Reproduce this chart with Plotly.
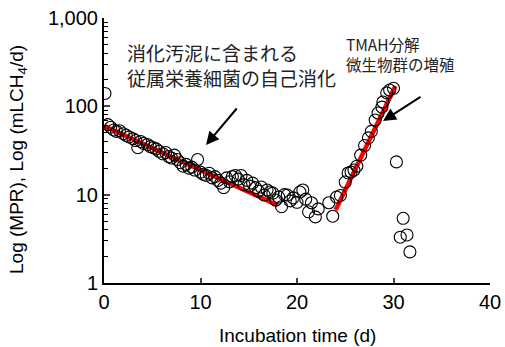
import plotly.graph_objects as go

# Measured methane production rate (scatter)
days = [0.1, 0.4, 0.7, 1.0, 1.3, 1.6, 2.0, 2.3, 2.6, 3.0, 3.3, 3.5, 3.8, 4.1, 4.5, 4.8,
        5.1, 5.4, 5.7, 6.1, 6.4, 6.7, 7.0, 7.3, 7.6, 7.9, 8.2, 8.5, 8.8, 9.1, 9.4, 9.7,
        10.0, 10.3, 10.6, 10.9, 11.2, 11.5, 11.8, 12.1, 12.4, 12.7, 13.0, 13.3, 13.6, 13.9,
        14.2, 14.5, 14.8, 15.1, 15.4, 15.7, 16.0, 16.3, 16.6, 16.9, 17.2, 17.5, 17.8, 18.1,
        18.4, 18.7, 19.0, 19.3, 19.6, 20.0, 20.3, 20.6, 20.9, 21.2, 21.5, 21.9, 22.2,
        23.3, 23.7, 24.1, 24.5, 25.0, 25.3, 25.6, 25.9, 26.2, 26.6, 27.0, 27.4, 27.7,
        28.1, 28.4, 28.8, 28.9, 29.3, 29.6, 30.0, 30.3, 30.7, 31.0, 31.4, 31.7]
mpr = [140, 62, 58, 54, 52, 53, 49, 47, 45, 43, 41, 34, 40, 38, 37, 35,
       34, 33, 31, 29, 30, 27, 26, 28, 25, 23, 21, 22, 20, 20.5, 19, 25,
       18, 17, 16.5, 17.5, 15.5, 16, 14.5, 13.5, 12, 15.5, 14, 16, 16.5, 15,
       16.5, 13, 14.5, 12.5, 13.5, 12, 11, 12.2, 9.9, 11.3, 10.7, 10.4, 8.7, 9.4,
       7.3, 10, 9.9, 8.5, 9.2, 8.2, 10.7, 11.3, 8.9, 6.4, 8.1, 5.6, 6.9,
       8.1, 5.7, 9.4, 9.8, 13.9, 17.6, 18, 19, 21, 28, 36, 44, 52,
       70, 84, 98, 112, 142, 153, 160, 23.5, 3.3, 5.4, 3.5, 2.25]

# Fitted lines
fit1_x = [0, 18]
fit1_y = [60, 7.6]
fit2_x = [24, 30.2]
fit2_y = [6.7, 170]

x_ticks = [0, 10, 20, 30, 40]
y_tickvals = [1, 10, 100, 1000]
y_ticktext = ["1", "10", "100", "1,000"]
y_minor = [v * m for m in (1, 10, 100) for v in range(2, 10)]

fig = go.Figure()
fig.add_trace(go.Scatter(x=fit1_x, y=fit1_y, mode="lines",
                         line=dict(color="#ff0000", width=4.5), showlegend=False))
fig.add_trace(go.Scatter(x=fit2_x, y=fit2_y, mode="lines",
                         line=dict(color="#ff0000", width=4.5), showlegend=False))
fig.add_trace(go.Scatter(x=days, y=mpr, mode="markers",
                         marker=dict(symbol="circle-open", size=12,
                                     line=dict(color="black", width=1.1), color="black"),
                         showlegend=False))

font_en = "Liberation Sans, Arial, sans-serif"
font_jp = "Noto Sans CJK JP"

fig.update_layout(
    width=505, height=347,
    margin=dict(l=104, r=15, t=18, b=64),
    paper_bgcolor="white", plot_bgcolor="white",
    font=dict(family=font_en, size=19, color="black"),
    xaxis=dict(range=[0, 40], tickvals=x_ticks, ticks="inside", ticklen=5,
               tickwidth=1.5, showline=True, linecolor="black", linewidth=2,
               showgrid=False, zeroline=False, automargin=False,
               tickfont=dict(size=20)),
    yaxis=dict(type="log", range=[0, 3], tickvals=y_tickvals, ticktext=y_ticktext,
               ticks="inside", ticklen=6, tickwidth=1.5, showline=True,
               linecolor="black", linewidth=2, showgrid=False, zeroline=False,
               automargin=False,
               minor=dict(tickvals=y_minor, ticks="inside", ticklen=4, tickwidth=1,
                          tickcolor="black", showgrid=False),
               tickfont=dict(size=20)),
)

def px(xp):
    return (xp - 104) / 386

def py(yp):
    return 1 - (yp - 18) / 265

# Axis titles
fig.add_annotation(xref="paper", yref="paper", x=px(297), y=py(335),
                   xanchor="center", yanchor="middle", showarrow=False,
                   text="Incubation time (d)", font=dict(size=19))
fig.add_annotation(xref="paper", yref="paper", x=px(18), y=py(160),
                   xanchor="center", yanchor="middle", showarrow=False, textangle=-90,
                   text="Log (MPR), Log (mLCH<sub>4</sub>/d)", font=dict(size=19))

fig.add_annotation(xref="x domain", yref="y domain", x=px(125), y=py(37),
                   xanchor="left", yanchor="top", align="left", showarrow=False,
                   text="消化汚泥に含まれる<br>従属栄養細菌の自己消化",
                   font=dict(family=font_jp, size=19, color="#222"))
fig.add_annotation(xref="x domain", yref="y domain", x=px(344), y=py(31),
                   xanchor="left", yanchor="top", align="left", showarrow=False,
                   text="TMAH分解<br>微生物群の増殖",
                   font=dict(family=font_jp, size=15.5, color="#222"))

# Arrows
fig.add_annotation(xref="x domain", yref="y domain", x=px(206), y=py(145),
                   ax=px(238), ay=py(107), axref="x domain", ayref="y domain",
                   showarrow=True, arrowhead=2, arrowsize=1.3, arrowwidth=2,
                   arrowcolor="black", text="")
fig.add_annotation(xref="x domain", yref="y domain", x=px(383), y=py(121),
                   ax=px(422), ay=py(96), axref="x domain", ayref="y domain",
                   showarrow=True, arrowhead=2, arrowsize=1.3, arrowwidth=2,
                   arrowcolor="black", text="")

fig.write_html("out.html", config={"displayModeBar": False},
               post_script="document.body.style.margin='0';")
